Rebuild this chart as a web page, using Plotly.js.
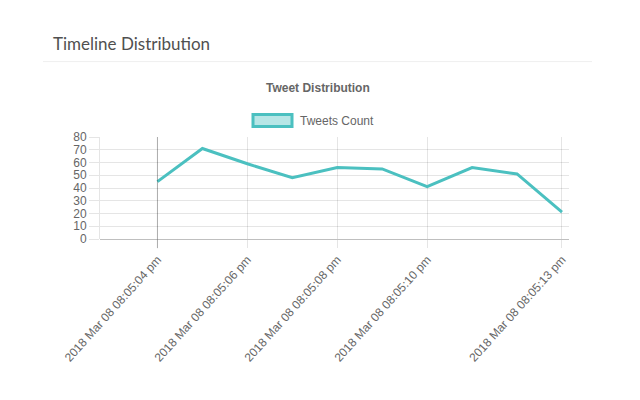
<!DOCTYPE html>
<html>
<head>
<meta charset="utf-8">
<script src="https://cdn.plot.ly/plotly-3.0.1.min.js"></script>
<style>
  html, body { margin: 0; padding: 0; background: #fff; }
  #chart { width: 640px; height: 400px; }
</style>
</head>
<body>
<div id="chart"></div>
<script>
const timeLabels = [
  "2018 Mar 08 08:05:04 pm",
  "2018 Mar 08 08:05:05 pm",
  "2018 Mar 08 08:05:06 pm",
  "2018 Mar 08 08:05:07 pm",
  "2018 Mar 08 08:05:08 pm",
  "2018 Mar 08 08:05:09 pm",
  "2018 Mar 08 08:05:10 pm",
  "2018 Mar 08 08:05:11 pm",
  "2018 Mar 08 08:05:12 pm",
  "2018 Mar 08 08:05:13 pm"
];
const tweetCounts = [45, 71, 59, 48, 56, 55, 41, 56, 51, 21];
const shownTickIdx = [0, 2, 4, 6, 9];
const seriesName = "Tweets Count";
const chartTitle = "Tweet Distribution";
const pageTitle = "Timeline Distribution";

const lineColor = "rgb(75,192,192)";
const gridColor = "rgba(0,0,0,0.1)";
const zeroColor = "rgba(0,0,0,0.25)";
const textColor = "#666";
const baseFont = "Liberation Sans, Arial, Helvetica, sans-serif";

const trace = {
  type: "scatter",
  mode: "lines",
  x: timeLabels,
  y: tweetCounts,
  name: seriesName,
  line: { color: lineColor, width: 3 },
  hoverinfo: "x+y"
};

const layout = {
  width: 640,
  height: 400,
  margin: { l: 100, r: 71, t: 136.5, b: 161, pad: 0 },
  paper_bgcolor: "#fff",
  plot_bgcolor: "#fff",
  showlegend: false,
  font: { family: baseFont, size: 12, color: textColor },
  xaxis: {
    type: "category",
    range: [-1.278, 9.156],
    tickmode: "array",
    tickvals: shownTickIdx.map(i => timeLabels[i]),
    ticktext: shownTickIdx.map(i => timeLabels[i]),
    tickangle: -48,
    ticks: "outside",
    ticklen: 8,
    tickcolor: gridColor,
    tickwidth: 1,
    showgrid: true,
    gridcolor: gridColor,
    gridwidth: 1,
    showline: false,
    zeroline: false,
    tickfont: { family: baseFont, size: 12, color: textColor },
    fixedrange: true
  },
  yaxis: {
    range: [0, 80],
    dtick: 10,
    tick0: 0,
    ticks: "outside",
    ticklen: 10,
    tickcolor: gridColor,
    showgrid: true,
    gridcolor: gridColor,
    gridwidth: 1,
    zeroline: true,
    zerolinecolor: zeroColor,
    zerolinewidth: 1,
    showline: true,
    linecolor: gridColor,
    linewidth: 1,
    tickfont: { family: baseFont, size: 12, color: textColor },
    fixedrange: true
  },
  shapes: [
    // header separator
    { type: "line", xref: "paper", yref: "paper",
      x0: (43 - 100) / 469, x1: (592 - 100) / 469,
      y0: (239 - 60.7) / 102.5, y1: (239 - 60.7) / 102.5,
      line: { color: "#efefef", width: 1 } },
    // darker first-category line
    { type: "line", xref: "x", yref: "paper",
      x0: timeLabels[0], x1: timeLabels[0], y0: -0.09, y1: 1,
      line: { color: zeroColor, width: 1 } },
    // legend box
    { type: "rect", xref: "paper", yref: "paper",
      x0: (253 - 100) / 469, x1: (292 - 100) / 469,
      y0: (239 - 126) / 102.5, y1: (239 - 114) / 102.5,
      fillcolor: "rgba(75,192,192,0.4)",
      line: { color: lineColor, width: 3 } }
  ],
  annotations: [
    { text: pageTitle, xref: "paper", yref: "paper",
      x: (51 - 100) / 469, y: (239 - 43) / 102.5,
      xanchor: "left", yanchor: "middle", showarrow: false,
      font: { family: "Lato, 'Open Sans', sans-serif", size: 17, color: "#505050" } },
    { text: "<b>" + chartTitle + "</b>", xref: "paper", yref: "paper",
      x: (317.5 - 100) / 469, y: (239 - 87.5) / 102.5,
      xanchor: "center", yanchor: "middle", showarrow: false,
      font: { family: baseFont, size: 12, color: textColor } },
    { text: seriesName, xref: "paper", yref: "paper",
      x: (298 - 100) / 469, y: (239 - 120) / 102.5,
      xanchor: "left", yanchor: "middle", showarrow: false,
      font: { family: baseFont, size: 12, color: textColor } }
  ]
};

Plotly.newPlot("chart", [trace], layout, { displayModeBar: false, staticPlot: true });
</script>
</body>
</html>
